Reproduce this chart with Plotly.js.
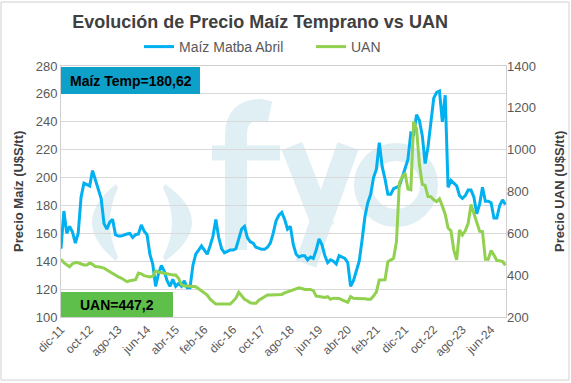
<!DOCTYPE html>
<html><head><meta charset="utf-8">
<script src="https://cdn.plot.ly/plotly-3.0.1.min.js"></script>
<style>html,body{margin:0;padding:0;background:#fff}#chart{width:571px;height:383px}</style>
</head><body><div id="chart"></div>
<script>
// Monthly categories from dic-11 (156 months)
const monthNames = ['ene','feb','mar','abr','may','jun','jul','ago','sep','oct','nov','dic'];
const startYear = 2011, startMonth = 11, nMonths = 156;
const months = [];
for (let k = 0; k < nMonths; k++) {
  const m = (startMonth + k) % 12, y = startYear + Math.floor((startMonth + k) / 12);
  months.push(monthNames[m] + '-' + String(y).slice(2));
}
const tickLabels = ['dic-11','oct-12','ago-13','jun-14','abr-15','feb-16','dic-16','oct-17','ago-18','jun-19','abr-20','feb-21','dic-21','oct-22','ago-23','jun-24'];

// Maíz Matba Abril (U$S/tt), left axis
const maiz = [149,176,160,165,161,153,160,186,196,195,194,205,198,192,185,167,163,168,170,159,
158,158,159,159.5,160,157,159,159.5,166,161.5,159,145,138,122,131,137,133,126,122,127,
122,124,122,126,121,121,137,145,148,151,148,145,151,158,170,157,149,146,147,148,
148,149,156,163,165,157,154,153,150,149,148.5,148.5,150,153,160,169,173,175,170,163,
165,152,145,143,144,144,141,143,142,148,156,152,144,139,141,140,138,144,143,142,
139,122,126,133,140,155,172,182,188,200,206,225,208,199,188,188,192,193,194,200,
207,213,232,231,245,241,230,210,222,242,257,261,262,240,259,193,198,196,194,187,
185,187,191,191,186,174,181,193,183,183,182,171,171,180,184,180.62];

// UAN (U$S/tt), right axis
const uan = [476,460,450,440,455,460,459,452,449,449,458,452,441,440,438,434,425,416,410,400,
392,386,378,369,373,377,378,410,406,398,393,391,395,420,415,412,408,406,404,401,
401,385,355,348,348,348,346,345,335,325,317,305,285,272,262,262,262,262,262,262,
275,290,318,300,285,278,268,266,266,280,288,296,305,305,305,305,305,308,315,320,
325,330,333,340,336,332,332,332,326,300,298,297,293,297,285,290,289,289,282,275,
270,298,290,289,289,289,287,285,285,300,320,377,377,378,464,472,481,560,840,870,
887,812,808,1134,1100,930,835,828,776,775,760,752,765,730,690,625,612,520,473,616,
592,612,648,738,695,648,610,608,476,476,518,496,470,469,465,447.2];

const lastMaiz = '180,62', lastUan = '447,2';

const wm = '#e0eff4';
const svg = `<svg xmlns="http://www.w3.org/2000/svg" width="445" height="251" viewBox="61 66 445 251">
<g fill="${wm}" stroke="none">
<path d="M116 184 Q68 222 116 261 L118 257 Q102 222 118 188 Z"/>
<path d="M165 184 Q219 222 165 261 L163 257 Q181 222 163 188 Z"/>
</g>
<g fill="none" stroke="${wm}" stroke-linecap="butt">
<path d="M236 250 L236 135 Q236 110 260 110 L270 112" stroke-width="22"/>
<path d="M212 153 L280 153" stroke-width="15"/>
<path d="M292 146 L324 228" stroke-width="22"/>
<path d="M348 146 L306 264" stroke-width="22"/>
<circle cx="396" cy="185" r="33" stroke-width="18"/>
</g></svg>`;
const svgUri = 'data:image/svg+xml;charset=utf-8,' + encodeURIComponent(svg);

const FONT = 'Liberation Sans, Arial, sans-serif';
const px = v => (v - 61) / 445;      // pixel x -> paper
const py = v => (317 - v) / 251;     // pixel y -> paper

const traces = [
  {x: months, y: maiz, type: 'scatter', mode: 'lines', name: 'Maíz Matba Abril',
   line: {color: '#00B0F0', width: 3}, yaxis: 'y'},
  {x: months, y: uan, type: 'scatter', mode: 'lines', name: 'UAN',
   line: {color: '#92D050', width: 3}, yaxis: 'y2'}
];

const layout = {
  width: 571, height: 383,
  margin: {l: 61, r: 65, t: 66, b: 66},
  paper_bgcolor: '#ffffff', plot_bgcolor: 'rgba(0,0,0,0)',
  font: {family: FONT, color: '#595959', size: 13},
  title: {text: 'Evolución de Precio Maíz Temprano vs UAN', xref: 'paper', x: px(260), xanchor: 'center',
          y: 1 - 22/383, yanchor: 'middle',
          font: {family: FONT, size: 18, color: '#404040', weight: 'bold'}},
  showlegend: true,
  legend: {orientation: 'h', x: px(139), xanchor: 'left', y: py(47), yanchor: 'middle',
           font: {family: FONT, size: 14, color: '#595959'}, bgcolor: 'rgba(0,0,0,0)',
           entrywidth: 127, entrywidthmode: 'pixels', itemwidth: 30},
  xaxis: {type: 'category', range: [0, 155.2], tickmode: 'array', tickvals: tickLabels, ticktext: tickLabels,
          tickangle: -45, tickfont: {size: 12, color: '#595959'}, showgrid: false,
          showline: true, linecolor: '#d0d0d0', linewidth: 1, mirror: true, ticks: '', zeroline: false},
  yaxis: {range: [100, 280], dtick: 20, tickfont: {size: 13, color: '#595959'},
          gridcolor: '#d9d9d9', gridwidth: 1, showline: true, linecolor: '#d0d0d0', mirror: true,
          zeroline: false, ticks: ''},
  yaxis2: {range: [200, 1400], dtick: 200, overlaying: 'y', side: 'right', showgrid: false,
           tickfont: {size: 13, color: '#595959'}, zeroline: false, ticks: ''},
  images: [{source: svgUri, xref: 'paper', yref: 'paper', x: 0, y: 1, sizex: 1, sizey: 1,
            xanchor: 'left', yanchor: 'top', sizing: 'stretch', layer: 'below'}],
  shapes: [
    {type: 'rect', xref: 'paper', yref: 'paper', x0: px(1), x1: px(569), y0: py(380), y1: py(2),
     line: {color: '#d0d0d0', width: 1}, fillcolor: 'rgba(0,0,0,0)'},
    {type: 'rect', xref: 'paper', yref: 'paper', x0: px(61), x1: px(200), y0: py(94), y1: py(67),
     line: {width: 0}, fillcolor: '#0DA0C8'},
    {type: 'rect', xref: 'paper', yref: 'paper', x0: px(61), x1: px(173), y0: py(317), y1: py(292),
     line: {width: 0}, fillcolor: '#5EC04A'}
  ],
  annotations: [
    {text: '<b>Maíz Temp=' + lastMaiz + '</b>', xref: 'paper', yref: 'paper', x: px(131), y: py(81),
     xanchor: 'center', yanchor: 'middle',
     showarrow: false, font: {family: FONT, size: 14, color: '#000000'}},
    {text: '<b>UAN=' + lastUan + '</b>', xref: 'paper', yref: 'paper', x: px(117), y: py(304.5),
     xanchor: 'center', yanchor: 'middle',
     showarrow: false, font: {family: FONT, size: 14, color: '#000000'}},
    {text: '<b>Precio Maíz (U$S/tt)</b>', xref: 'paper', yref: 'paper', x: px(18), y: py(192),
     xanchor: 'center', yanchor: 'middle',
     textangle: -90, showarrow: false, font: {family: FONT, size: 13, color: '#404040'}},
    {text: '<b>Precio UAN (U$S/tt)</b>', xref: 'paper', yref: 'paper', x: px(559), y: py(192),
     xanchor: 'center', yanchor: 'middle',
     textangle: -90, showarrow: false, font: {family: FONT, size: 13, color: '#404040'}}
  ]
};

Plotly.newPlot('chart', traces, layout, {displayModeBar: false, staticPlot: true});
</script></body></html>
